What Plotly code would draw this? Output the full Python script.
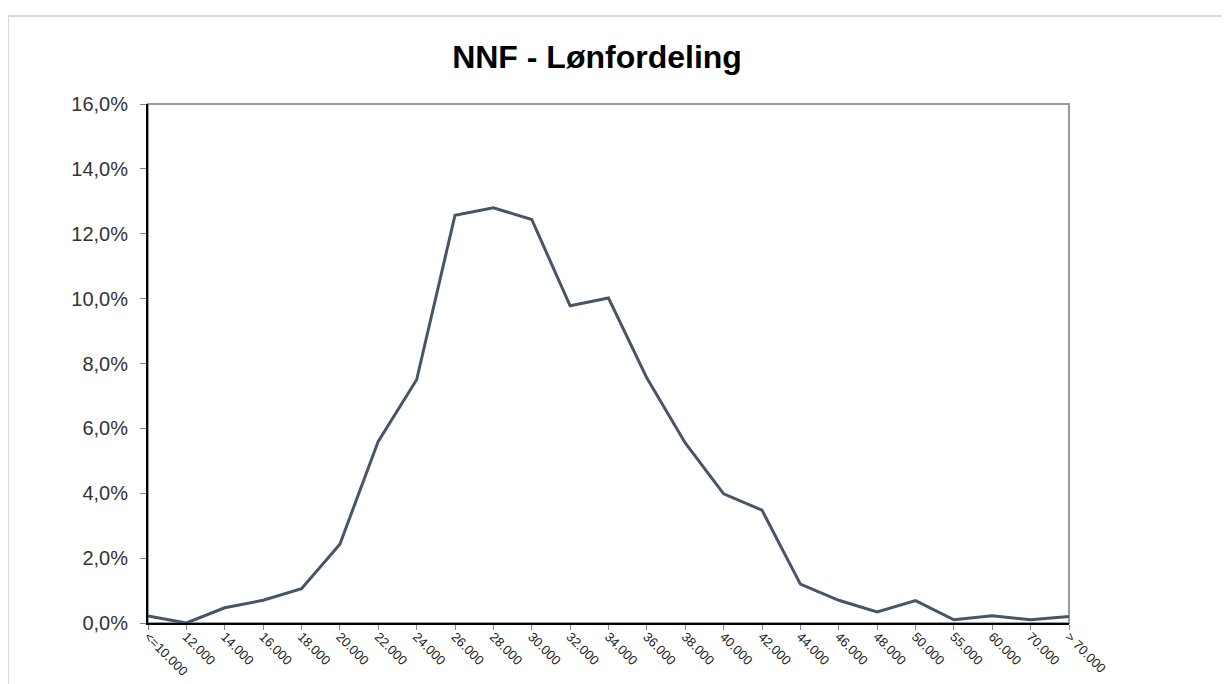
import plotly.graph_objects as go

categories = ["<=10.000", "12.000", "14.000", "16.000", "18.000", "20.000", "22.000",
              "24.000", "26.000", "28.000", "30.000", "32.000", "34.000", "36.000",
              "38.000", "40.000", "42.000", "44.000", "46.000", "48.000", "50.000",
              "55.000", "60.000", "70.000", "> 70.000"]
share_pct = [0.22, 0.0, 0.47, 0.70, 1.06, 2.43, 5.60, 7.50, 12.57, 12.80, 12.44,
             9.78, 10.02, 7.55, 5.55, 3.98, 3.48, 1.20, 0.70, 0.34, 0.69,
             0.10, 0.22, 0.10, 0.20]
y_ticks = [0, 2, 4, 6, 8, 10, 12, 14, 16]
y_tick_labels = [f"{v:.1f}".replace(".", ",") + "%" for v in y_ticks]

OFF = 8  # page body margin
W, H = 1222, 676
ML, MR, MT, MB = 148 - OFF, 161, 104 - OFF, 61
pw = W - ML - MR
ph = H - MT - MB

def px_x(p):
    return (p - OFF - ML) / pw

def px_y(p):
    return (H - MB - (p - OFF)) / ph

idx = list(range(len(categories)))

fig = go.Figure()
fig.add_trace(go.Scatter(
    x=idx, y=share_pct, mode="lines",
    line=dict(color="#475569", width=3),
    hoverinfo="skip", showlegend=False,
))

shapes = [
    dict(type="line", xref="paper", yref="paper", x0=px_x(8), x1=px_x(1240), y0=px_y(16), y1=px_y(16),
         line=dict(color="#d9d9d9", width=2), layer="below"),
    dict(type="line", xref="paper", yref="paper", x0=px_x(8), x1=px_x(8), y0=px_y(16), y1=px_y(700),
         line=dict(color="#d9d9d9", width=2), layer="below"),
    dict(type="rect", xref="paper", yref="paper", x0=0, x1=1, y0=0, y1=1,
         line=dict(color="#9a9a9a", width=2), layer="below"),
]

fig.update_layout(
    width=W, height=H,
    margin=dict(l=ML, r=MR, t=MT, b=MB, pad=0, autoexpand=False),
    paper_bgcolor="white", plot_bgcolor="white",
    font=dict(family="Liberation Sans, Arial, sans-serif", color="#222222"),
    title=dict(text="<b>NNF - Lønfordeling</b>", x=px_x(597), xref="paper", xanchor="center",
               y=1 - (57 - OFF) / H, yanchor="middle",
               font=dict(size=32, color="#000000", family="Liberation Sans, Arial, sans-serif")),
    shapes=shapes,
    showlegend=False,
)

fig.update_xaxes(
    range=[0, len(categories) - 1],
    tickmode="array", tickvals=idx, ticktext=categories,
    tickangle=45, tickfont=dict(size=13, color="#222222"),
    showgrid=False, zeroline=False, automargin=False,
    showline=True, linecolor="#000000", linewidth=2,
    ticks="outside", ticklen=5, tickcolor="#888888", tickwidth=1,
    ticklabelstandoff=-6,
)
fig.update_yaxes(
    range=[0, 16],
    tickmode="array", tickvals=y_ticks, ticktext=y_tick_labels,
    tickfont=dict(size=20, color="#333333"),
    showgrid=False, zeroline=False, automargin=False,
    showline=True, linecolor="#000000", linewidth=2,
    ticks="outside", ticklen=6, tickcolor="#888888", tickwidth=1,
    ticklabelstandoff=8,
)

fig.write_html("out.html")
